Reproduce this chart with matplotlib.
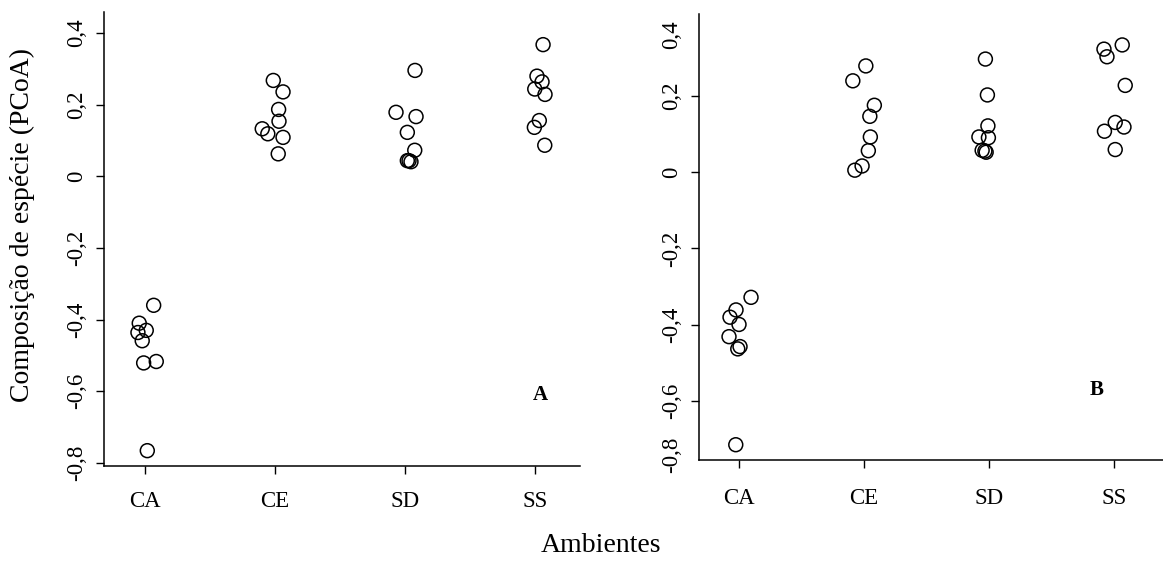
import matplotlib
matplotlib.use("Agg")
import matplotlib.pyplot as plt
import numpy as np

plt.rcParams['font.family'] = ['Liberation Serif', 'DejaVu Serif']

categories = ["CA", "CE", "SD", "SS"]

# Panel A values (PCoA scores) and horizontal jitter
a_values = {
    "CA": [-0.360, -0.410, -0.430, -0.436, -0.459, -0.521, -0.517, -0.766],
    "CE": [0.268, 0.236, 0.187, 0.154, 0.133, 0.119, 0.109, 0.063],
    "SD": [0.296, 0.179, 0.167, 0.123, 0.073, 0.044, 0.041, 0.044],
    "SS": [0.368, 0.280, 0.264, 0.244, 0.229, 0.156, 0.137, 0.087],
}
a_jitter = {
    "CA": [0.067, -0.044, 0.010, -0.054, -0.021, -0.010, 0.087, 0.018],
    "CE": [-0.013, 0.062, 0.028, 0.031, -0.098, -0.055, 0.062, 0.025],
    "SD": [0.077, -0.069, 0.085, 0.018, 0.075, 0.018, 0.046, 0.031],
    "SS": [0.062, 0.015, 0.054, -0.002, 0.077, 0.033, -0.005, 0.075],
}

# Panel B
b_values = {
    "CA": [-0.328, -0.361, -0.380, -0.399, -0.431, -0.457, -0.463, -0.714],
    "CE": [0.278, 0.239, 0.175, 0.146, 0.092, 0.056, 0.016, 0.005],
    "SD": [0.296, 0.202, 0.121, 0.092, 0.090, 0.057, 0.052, 0.055],
    "SS": [0.322, 0.333, 0.302, 0.227, 0.130, 0.107, 0.118, 0.059],
}
b_jitter = {
    "CA": [0.096, -0.024, -0.072, 0.000, -0.080, 0.008, -0.010, -0.026],
    "CE": [0.014, -0.090, 0.082, 0.046, 0.050, 0.034, -0.016, -0.074],
    "SD": [-0.030, -0.014, -0.010, -0.082, -0.006, -0.056, -0.024, -0.034],
    "SS": [-0.082, 0.064, -0.058, 0.088, 0.008, -0.078, 0.078, 0.008],
}

a_yticks = [-0.8, -0.6, -0.4, -0.2, 0.0, 0.2, 0.4]
a_ylabels = ["-0,8", "-0,6", "-0,4", "-0,2", "0", "0,2", "0,4"]
b_yticks = [-0.6, -0.4, -0.2, 0.0, 0.2]
b_ylabels = ["-0,6", "-0,4", "-0,2", "0", "0,2"]
b_extra_ticks = [-0.741, 0.359]
b_extra_labels = ["-0,8", "0,4"]

W, H = 1163, 567
fig = plt.figure(figsize=(W / 100, H / 100), dpi=100)

def px_axes(x0, y0, x1, y1):
    return fig.add_axes([x0 / W, 1 - y1 / H, (x1 - x0) / W, (y1 - y0) / H])

ax1 = px_axes(104, 11.7, 580, 465.7)
ax2 = px_axes(699, 14, 1163, 460)

tick_fs = 16.5

def style(ax, xpad):
    for s in ["top", "right"]:
        ax.spines[s].set_visible(False)
    for s in ["left", "bottom"]:
        ax.spines[s].set_linewidth(1.1)
    ax.tick_params(axis="both", direction="out", length=6, width=1.0,
                   labelsize=tick_fs)
    ax.tick_params(axis="x", pad=xpad)
    ax.tick_params(axis="y", pad=6)
    ax.set_xticks(range(1, len(categories) + 1))
    ax.set_xticklabels(categories)

def draw(ax, values, jitter):
    for i, c in enumerate(categories):
        xs = np.array(jitter[c]) + (i + 1)
        ax.scatter(xs, values[c], s=100, facecolors="none", edgecolors="black",
                   linewidths=1.1, zorder=3)

style(ax1, 12)
draw(ax1, a_values, a_jitter)
ax1.set_xlim(0.685, 4.346)
ax1.set_ylim(-0.808, 0.460)
ax1.set_yticks(a_yticks)
ax1.set_yticklabels(a_ylabels, rotation=90, va="center")
ax1.text(4.04, -0.611, "A", fontsize=15, fontweight="bold", ha="center", va="center")

style(ax2, 14)
draw(ax2, b_values, b_jitter)
ax2.set_xlim(0.68, 4.39)
ax2.set_ylim(-0.754, 0.414)
ax2.set_yticks(b_yticks)
ax2.set_yticklabels(b_ylabels, rotation=90, va="center")
ax2.set_yticks(b_extra_ticks, minor=True)
ax2.set_yticklabels(b_extra_labels, minor=True, rotation=90, va="center")
ax2.tick_params(axis="y", which="minor", length=0, pad=12, labelsize=tick_fs)
ax2.text(3.856, -0.571, "B", fontsize=15, fontweight="bold", ha="center", va="center")

fig.text(22 / W, 1 - 225 / H, "Composição de espécie (PCoA)", rotation=90,
         fontsize=20, ha="center", va="center")
fig.text(601 / W, 1 - 546 / H, "Ambientes", fontsize=20, ha="center", va="center")

fig.savefig("out.png", dpi=100)
